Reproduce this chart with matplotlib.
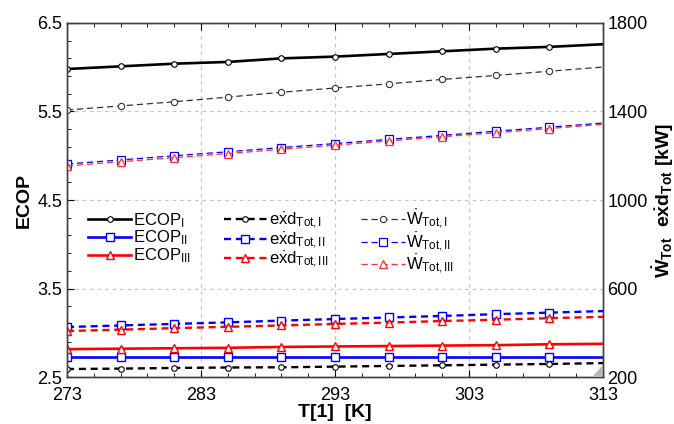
import matplotlib
matplotlib.use("Agg")
import matplotlib.pyplot as plt
import numpy as np
from matplotlib.ticker import FixedLocator

plt.rcParams['font.family'] = ['Liberation Sans', 'DejaVu Sans']
plt.rcParams['mathtext.fontset'] = 'custom'
plt.rcParams['mathtext.rm'] = 'Liberation Sans'
plt.rcParams['mathtext.it'] = 'Liberation Sans'
plt.rcParams['mathtext.bf'] = 'Liberation Sans:bold'

# Data
T = [273, 277, 281, 285, 289, 293, 297, 301, 305, 309, 313]
ecop_I = [5.98, 6.01, 6.04, 6.06, 6.10, 6.12, 6.15, 6.18, 6.21, 6.23, 6.26]
ecop_II = [2.725, 2.725, 2.725, 2.725, 2.725, 2.725, 2.725, 2.725, 2.725, 2.725, 2.725]
ecop_III = [2.815, 2.82, 2.825, 2.83, 2.84, 2.845, 2.85, 2.855, 2.86, 2.87, 2.875]
exd_I = [236, 238, 241, 243, 244, 247, 250, 253, 256, 259, 263]
exd_II = [426, 433, 440, 447, 455, 462, 469, 476, 484, 491, 498]
exd_III = [408, 414, 421, 427, 433, 440, 446, 453, 459, 466, 472]
W_I = [1407, 1425, 1444, 1465, 1487, 1506, 1525, 1545, 1563, 1582, 1601]
W_II = [1163, 1181, 1200, 1218, 1237, 1255, 1274, 1292, 1311, 1329, 1348]
W_III = [1154, 1173, 1191, 1210, 1229, 1248, 1267, 1286, 1304, 1323, 1342]

x_ticks = [273, 283, 293, 303, 313]
y_ticks = [2.5, 3.5, 4.5, 5.5, 6.5]
y2_ticks = [200, 600, 1000, 1400, 1800]

fig = plt.figure(figsize=(6.74, 4.24), dpi=100)
ax = fig.add_axes([0.0994, 0.1108, 0.7953, 0.835])
ax2 = ax.twinx()

mk = slice(0, 10)
thick = 1.9
thin = 0.9
l1, = ax.plot(T, ecop_I, '-', color='black', lw=thick, marker='o', ms=4, mfc='white', mec='black', mew=0.8, markevery=mk, label=r'ECOP$_{\mathrm{I}}$')
l2, = ax.plot(T, ecop_II, '-', color='#0000ff', lw=thick, marker='s', ms=5.5, mfc='white', mec='#0000ff', mew=1.0, markevery=mk, label=r'ECOP$_{\mathrm{II}}$')
l3, = ax.plot(T, ecop_III, '-', color='#ff0000', lw=thick, marker='^', ms=5.5, mfc='white', mec='#ff0000', mew=1.0, markevery=mk, label=r'ECOP$_{\mathrm{III}}$')

d1, = ax2.plot(T, exd_I, '--', color='black', lw=1.7, dashes=(3, 2), marker='o', ms=4, mfc='white', mec='black', mew=0.8, markevery=mk, label=r'e$\dot{\mathrm{x}}$d$_{\mathrm{Tot,I}}$')
d2, = ax2.plot(T, exd_II, '--', color='#0000ff', lw=1.7, dashes=(3, 2), marker='s', ms=5.5, mfc='white', mec='#0000ff', mew=1.0, markevery=mk, label=r'e$\dot{\mathrm{x}}$d$_{\mathrm{Tot,II}}$')
d3, = ax2.plot(T, exd_III, '--', color='#ff0000', lw=1.7, dashes=(3, 2), marker='^', ms=5.5, mfc='white', mec='#ff0000', mew=1.0, markevery=mk, label=r'e$\dot{\mathrm{x}}$d$_{\mathrm{Tot,III}}$')

w1, = ax2.plot(T, W_I, '--', color='#333333', lw=thin, dashes=(5, 3), marker='o', ms=4.5, mfc='white', mec='#333333', mew=0.8, markevery=mk, label=r'$\dot{\mathrm{W}}_{\mathrm{Tot,I}}$')
w2, = ax2.plot(T, W_II, '--', color='#0000ff', lw=thin, dashes=(5, 3), marker='s', ms=5.5, mfc='white', mec='#0000ff', mew=0.9, markevery=mk, label=r'$\dot{\mathrm{W}}_{\mathrm{Tot,II}}$')
w3, = ax2.plot(T, W_III, '--', color='#ff3030', lw=thin, dashes=(5, 3), marker='^', ms=5.5, mfc='white', mec='#ff3030', mew=0.9, markevery=mk, label=r'$\dot{\mathrm{W}}_{\mathrm{Tot,III}}$')

ax.set_xlim(273, 313)
ax.set_ylim(2.5, 6.5)
ax2.set_ylim(200, 1800)

ax.set_xticks(x_ticks)
ax.xaxis.set_minor_locator(FixedLocator(np.arange(273, 314, 2)))
ax.set_yticks(y_ticks)
ax.yaxis.set_minor_locator(FixedLocator(np.arange(2.5, 6.51, 0.2)))
ax2.set_yticks(y2_ticks)

ax.tick_params(axis='both', which='both', direction='in', top=True, labelsize=13)
ax.tick_params(axis='x', which='major', pad=7)
ax.tick_params(which='major', length=5)
ax.tick_params(which='minor', length=3)
ax2.tick_params(axis='y', which='both', direction='in', length=0, labelsize=13, pad=3)

ax.grid(True, which='major', linestyle=(0, (3, 3)), color='#c8c8c8', lw=0.9)
ax.set_axisbelow(True)

for a in (ax, ax2):
    for s in a.spines.values():
        s.set_color('#404040')
        s.set_linewidth(1.0)

# small resize-grip hatch at bottom-right corner
for k in range(4):
    d = 0.008 + k * 0.008
    ax2.plot([1 - d * 0.5, 1 - 0.002], [0.004, d * 0.8 + 0.002], transform=ax2.transAxes,
             color='#999999', lw=0.8, clip_on=False)

ax.set_xlabel('T[1]  [K]', fontsize=14, fontweight='bold', labelpad=0)
ax.set_ylabel('ECOP', fontsize=14, fontweight='bold', labelpad=3)
ax2.set_ylabel(r'$\mathbf{\dot{W}_{Tot}}$  $\mathbf{e\dot{x}d_{Tot}}$ $\mathbf{[kW]}$', fontsize=14, labelpad=2)

handles = [l1, l2, l3, d1, d2, d3, w1, w2, w3]
leg = ax2.legend(handles=handles, ncol=3, loc='upper left', bbox_to_anchor=(0.118, 0.53),
                 bbox_transform=fig.transFigure, frameon=False, fontsize=12,
                 handlelength=2.6, handletextpad=0.1, columnspacing=2.0, labelspacing=-0.05,
                 borderpad=0)

fig.savefig('out.png', dpi=100)
